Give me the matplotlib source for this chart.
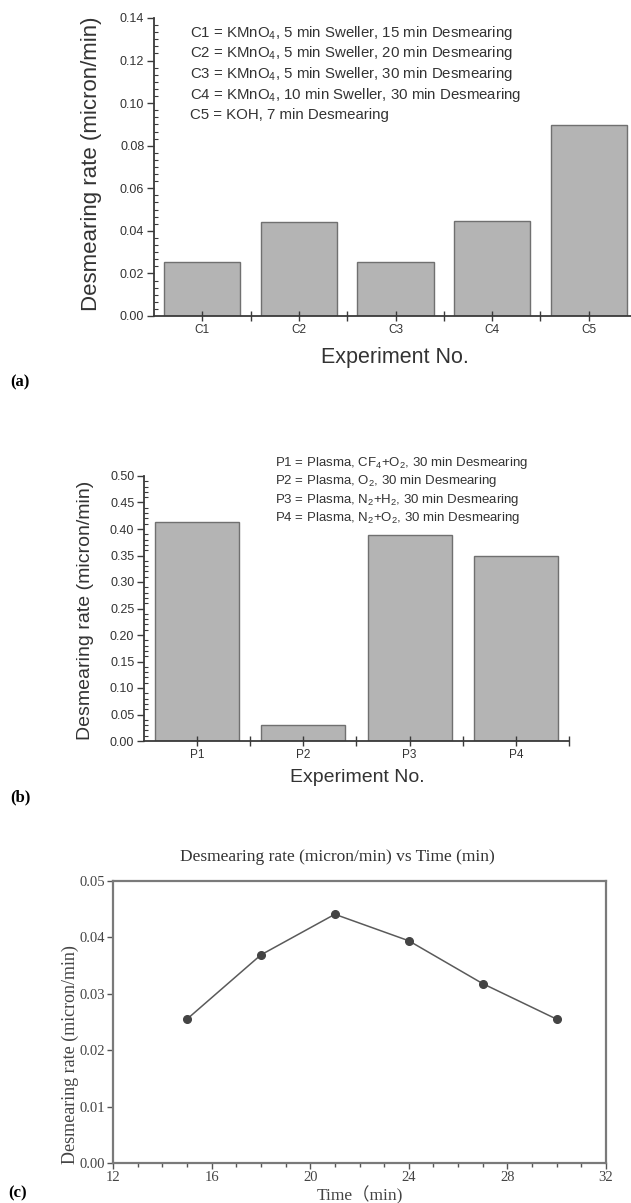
import matplotlib
matplotlib.use("Agg")
import matplotlib.pyplot as plt
from matplotlib.ticker import MultipleLocator, AutoMinorLocator, FormatStrFormatter

plt.rcParams['mathtext.default'] = 'regular'

W, H = 631, 1203

# (a) chemical desmearing
c_labels = ['C1', 'C2', 'C3', 'C4', 'C5']
c_rates = [0.0256, 0.0443, 0.0255, 0.0448, 0.0898]
c_notes = ['C1 = KMnO$_4$, 5 min Sweller, 15 min Desmearing',
           'C2 = KMnO$_4$, 5 min Sweller, 20 min Desmearing',
           'C3 = KMnO$_4$, 5 min Sweller, 30 min Desmearing',
           'C4 = KMnO$_4$, 10 min Sweller, 30 min Desmearing',
           'C5 = KOH, 7 min Desmearing']

# (b) plasma desmearing
p_labels = ['P1', 'P2', 'P3', 'P4']
p_rates = [0.413, 0.031, 0.389, 0.349]
p_notes = ['P1 = Plasma, CF$_4$+O$_2$, 30 min Desmearing',
           'P2 = Plasma, O$_2$, 30 min Desmearing',
           'P3 = Plasma, N$_2$+H$_2$, 30 min Desmearing',
           'P4 = Plasma, N$_2$+O$_2$, 30 min Desmearing']

# (c) rate vs time
time_min = [15, 18, 21, 24, 27, 30]
time_rates = [0.0255, 0.0369, 0.0441, 0.0394, 0.0318, 0.0255]

SANS = 'Liberation Sans'
SERIF = 'Liberation Serif'


# pixel box (left, top, right, bottom) -> figure rect
def rect(l, t, r, b):
    return [l / W, 1 - b / H, (r - l) / W, (b - t) / H]


def ftext(x, y, s, **kw):
    fig.text(x / W, 1 - y / H, s, **kw)


def bar_panel(ax, labels, values, ymax, ystep, nminor, label_size):
    n = len(labels)
    pos = list(range(1, n + 1))
    ax.bar(pos, values, width=0.79, color='#b4b4b4', edgecolor='#707070', linewidth=1)
    ax.set_xlim(0.5, n + 0.5)
    ax.set_ylim(0, ymax)
    for s in ['top', 'right']:
        ax.spines[s].set_visible(False)
    for s in ['left', 'bottom']:
        ax.spines[s].set_color('#3a3a3a')
        ax.spines[s].set_linewidth(1.3)
    ax.set_xticks(pos)
    ax.set_xticklabels(labels, fontsize=label_size, family=SANS, color='#333333')
    ax.set_xticks([p + 0.5 for p in pos], minor=True)
    ax.tick_params(axis='x', which='both', direction='inout', length=7, width=1, color='#3a3a3a', pad=2)
    ax.yaxis.set_major_locator(MultipleLocator(ystep))
    ax.yaxis.set_minor_locator(AutoMinorLocator(nminor))
    ax.yaxis.set_major_formatter(FormatStrFormatter('%.2f'))
    ax.tick_params(axis='y', which='major', direction='out', length=5, width=1, color='#3a3a3a',
                   labelsize=9, pad=2, labelcolor='#333333')
    ax.tick_params(axis='y', which='minor', direction='in', length=3, width=0.8, color='#3a3a3a')
    for t in ax.get_yticklabels():
        t.set_family(SANS)


fig = plt.figure(figsize=(W / 100, H / 100), dpi=100)

# ---- panel (a)
ax1 = fig.add_axes(rect(154, 18, 637, 316))
bar_panel(ax1, c_labels, c_rates, 0.14, 0.02, 6, 8.5)
for i, note in enumerate(c_notes):
    ftext(190, 33 + i * 20.5, note, fontsize=10.8, family=SANS, color='#333333', va='center')
ftext(92, 164, 'Desmearing rate (micron/min)', fontsize=16, family=SANS, color='#333333',
      rotation=90, ha='center', va='center')
ftext(395, 358, 'Experiment No.', fontsize=15.5, family=SANS, color='#333333', ha='center', va='center')
ftext(10, 382, '(a)', fontsize=12, family=SERIF, weight='bold', va='center')

# ---- panel (b)
ax2 = fig.add_axes(rect(144, 476, 569, 741))
bar_panel(ax2, p_labels, p_rates, 0.50, 0.05, 5, 8.5)
for i, note in enumerate(p_notes):
    ftext(275, 463 + i * 18.3, note, fontsize=9.5, family=SANS, color='#333333', va='center')
ftext(85, 610, 'Desmearing rate (micron/min)', fontsize=14, family=SANS, color='#333333',
      rotation=90, ha='center', va='center')
ftext(357, 777, 'Experiment No.', fontsize=14, family=SANS, color='#333333', ha='center', va='center')
ftext(10, 797, '(b)', fontsize=12, family=SERIF, weight='bold', va='center')

# ---- panel (c)
ax3 = fig.add_axes(rect(113, 881, 606, 1163))
ax3.plot(time_min, time_rates, color='#5a5a5a', linewidth=1.1, marker='o', markersize=5.5,
         markerfacecolor='#444444', markeredgecolor='#444444')
ax3.set_xlim(12, 32)
ax3.set_ylim(0, 0.05)
for s in ax3.spines.values():
    s.set_color('#7a7a7a')
    s.set_linewidth(1.6)
ax3.xaxis.set_major_locator(MultipleLocator(4))
ax3.xaxis.set_minor_locator(MultipleLocator(1))
ax3.yaxis.set_major_locator(MultipleLocator(0.01))
ax3.yaxis.set_major_formatter(FormatStrFormatter('%.2f'))
ax3.tick_params(which='major', direction='out', length=4, width=1, color='#555555',
                labelsize=10.5, labelcolor='#444444', pad=2)
ax3.tick_params(which='minor', direction='out', length=3, width=1, color='#555555')
for t in ax3.get_xticklabels() + ax3.get_yticklabels():
    t.set_family(SERIF)
ftext(337, 857, 'Desmearing rate (micron/min) vs Time (min)', fontsize=12.5, family=SERIF,
      color='#333333', ha='center', va='center')
ftext(70, 1055, 'Desmearing rate (micron/min)', fontsize=13, family=SERIF, color='#444444',
      rotation=90, ha='center', va='center')
ftext(360, 1195, 'Time（min)', fontsize=12.5, family=[SERIF, 'Noto Sans CJK TC'], color='#444444',
      ha='center', va='center')
ftext(8, 1193, '(c)', fontsize=12, family=SERIF, weight='bold', va='center')

fig.savefig('out.png', dpi=100)
